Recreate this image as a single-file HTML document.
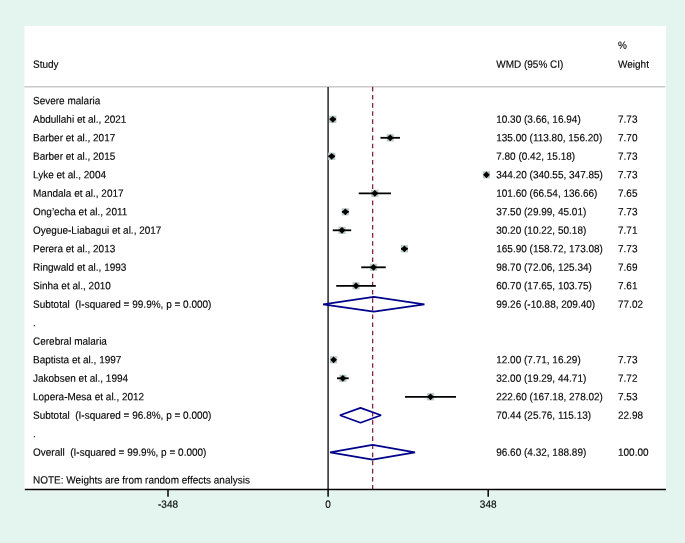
<!DOCTYPE html>
<html><head><meta charset="utf-8"><title>Forest plot</title>
<style>
html,body{margin:0;padding:0;background:#e3f5ee;}
body{width:685px;height:543px;overflow:hidden;}
svg{display:block;will-change:transform;}
text{font-family:"Liberation Sans",sans-serif;font-size:10.0px;fill:#000;stroke:#000;stroke-width:0.12px;white-space:pre;text-rendering:geometricPrecision;}
</style></head><body>
<svg width="685" height="543" viewBox="0 0 685 543">
<rect x="0" y="0" width="685" height="543" fill="#e3f5ee"/>
<rect x="24.5" y="26.0" width="641.5" height="464.6" fill="#ffffff"/>
<line x1="24.5" y1="86.75" x2="665.3" y2="86.75" stroke="#c9c9c9" stroke-width="1.4"/>
<line x1="328.1" y1="86.95" x2="328.1" y2="489.5" stroke="#343434" stroke-width="1.6"/>
<line x1="372.64" y1="86.8" x2="372.64" y2="489.5" stroke="#8a1f4a" stroke-width="1.3" stroke-dasharray="4.6 3.528"/>
<rect x="329.24" y="115.70" width="7.2" height="7.2" fill="#b9c9c7"/>
<line x1="329.78" y1="119.30" x2="335.89" y2="119.30" stroke="#000" stroke-width="1.8"/>
<path d="M329.49 119.30L332.84 115.95L336.19 119.30L332.84 122.65Z" fill="#000"/>
<rect x="386.61" y="134.20" width="7.2" height="7.2" fill="#b9c9c7"/>
<line x1="380.45" y1="137.80" x2="399.96" y2="137.80" stroke="#000" stroke-width="1.8"/>
<path d="M386.86 137.80L390.21 134.45L393.56 137.80L390.21 141.15Z" fill="#000"/>
<rect x="328.09" y="152.70" width="7.2" height="7.2" fill="#b9c9c7"/>
<line x1="328.29" y1="156.30" x2="335.08" y2="156.30" stroke="#000" stroke-width="1.8"/>
<path d="M328.34 156.30L331.69 152.95L335.04 156.30L331.69 159.65Z" fill="#000"/>
<rect x="482.85" y="171.20" width="7.2" height="7.2" fill="#b9c9c7"/>
<line x1="484.77" y1="174.80" x2="488.13" y2="174.80" stroke="#000" stroke-width="1.8"/>
<path d="M483.10 174.80L486.45 171.45L489.80 174.80L486.45 178.15Z" fill="#000"/>
<rect x="371.24" y="189.70" width="7.2" height="7.2" fill="#b9c9c7"/>
<line x1="358.71" y1="193.30" x2="390.97" y2="193.30" stroke="#000" stroke-width="1.8"/>
<path d="M371.49 193.30L374.84 189.95L378.19 193.30L374.84 196.65Z" fill="#000"/>
<rect x="341.75" y="208.20" width="7.2" height="7.2" fill="#b9c9c7"/>
<line x1="341.90" y1="211.80" x2="348.81" y2="211.80" stroke="#000" stroke-width="1.8"/>
<path d="M342.00 211.80L345.35 208.45L348.70 211.80L345.35 215.15Z" fill="#000"/>
<rect x="338.39" y="226.70" width="7.2" height="7.2" fill="#b9c9c7"/>
<line x1="332.80" y1="230.30" x2="351.19" y2="230.30" stroke="#000" stroke-width="1.8"/>
<path d="M338.64 230.30L341.99 226.95L345.34 230.30L341.99 233.65Z" fill="#000"/>
<rect x="400.82" y="245.20" width="7.2" height="7.2" fill="#b9c9c7"/>
<line x1="401.12" y1="248.80" x2="407.73" y2="248.80" stroke="#000" stroke-width="1.8"/>
<path d="M401.07 248.80L404.42 245.45L407.77 248.80L404.42 252.15Z" fill="#000"/>
<rect x="369.91" y="263.70" width="7.2" height="7.2" fill="#b9c9c7"/>
<line x1="361.25" y1="267.30" x2="385.76" y2="267.30" stroke="#000" stroke-width="1.8"/>
<path d="M370.16 267.30L373.51 263.95L376.86 267.30L373.51 270.65Z" fill="#000"/>
<rect x="352.43" y="282.20" width="7.2" height="7.2" fill="#b9c9c7"/>
<line x1="336.22" y1="285.80" x2="375.83" y2="285.80" stroke="#000" stroke-width="1.8"/>
<path d="M352.68 285.80L356.03 282.45L359.38 285.80L356.03 289.15Z" fill="#000"/>
<path d="M323.09 304.30L373.77 296.90L424.44 304.30L373.77 311.70Z" fill="none" stroke="#00008b" stroke-width="1.75" stroke-linejoin="bevel"/>
<rect x="330.02" y="356.20" width="7.2" height="7.2" fill="#b9c9c7"/>
<line x1="331.65" y1="359.80" x2="335.59" y2="359.80" stroke="#000" stroke-width="1.8"/>
<path d="M330.27 359.80L333.62 356.45L336.97 359.80L333.62 363.15Z" fill="#000"/>
<rect x="339.22" y="374.70" width="7.2" height="7.2" fill="#b9c9c7"/>
<line x1="336.97" y1="378.30" x2="348.67" y2="378.30" stroke="#000" stroke-width="1.8"/>
<path d="M339.47 378.30L342.82 374.95L346.17 378.30L342.82 381.65Z" fill="#000"/>
<rect x="426.91" y="393.20" width="7.2" height="7.2" fill="#b9c9c7"/>
<line x1="405.01" y1="396.80" x2="456.01" y2="396.80" stroke="#000" stroke-width="1.8"/>
<path d="M427.16 396.80L430.51 393.45L433.86 396.80L430.51 400.15Z" fill="#000"/>
<path d="M339.95 415.30L360.51 407.90L381.07 415.30L360.51 422.70Z" fill="none" stroke="#00008b" stroke-width="1.75" stroke-linejoin="bevel"/>
<path d="M330.09 452.30L372.54 444.90L415.00 452.30L372.54 459.70Z" fill="none" stroke="#00008b" stroke-width="1.75" stroke-linejoin="bevel"/>
<line x1="24.8" y1="489.5" x2="666.0" y2="489.5" stroke="#000" stroke-width="1.4"/>
<line x1="168.00" y1="489.5" x2="168.00" y2="496.80" stroke="#000" stroke-width="1.5"/>
<text transform="matrix(1 0.0005 0 1.05 168.00 507.80)" text-anchor="middle">-348</text>
<line x1="328.10" y1="489.5" x2="328.10" y2="496.80" stroke="#000" stroke-width="1.5"/>
<text transform="matrix(1 0.0005 0 1.05 328.10 507.80)" text-anchor="middle">0</text>
<line x1="488.20" y1="489.5" x2="488.20" y2="496.80" stroke="#000" stroke-width="1.5"/>
<text transform="matrix(1 0.0005 0 1.05 488.20 507.80)" text-anchor="middle">348</text>
<text transform="matrix(1 0.0005 0 1.05 33.00 67.70)">Study</text>
<text transform="matrix(1 0.0005 0 1.05 496.20 67.70)">WMD (95% CI)</text>
<text transform="matrix(1 0.0005 0 1.05 618.00 67.70)">Weight</text>
<text transform="matrix(1 0.0005 0 1.05 618.00 48.80)">%</text>
<text transform="matrix(1 0.0005 0 1.05 33.00 104.20)">Severe malaria</text>
<text transform="matrix(1 0.0005 0 1.05 33.00 122.70)">Abdullahi et al., 2021</text>
<text transform="matrix(1 0.0005 0 1.05 496.20 122.70)">10.30 (3.66, 16.94)</text>
<text transform="matrix(1 0.0005 0 1.05 618.00 122.70)">7.73</text>
<text transform="matrix(1 0.0005 0 1.05 33.00 141.20)">Barber et al., 2017</text>
<text transform="matrix(1 0.0005 0 1.05 496.20 141.20)">135.00 (113.80, 156.20)</text>
<text transform="matrix(1 0.0005 0 1.05 618.00 141.20)">7.70</text>
<text transform="matrix(1 0.0005 0 1.05 33.00 159.70)">Barber et al., 2015</text>
<text transform="matrix(1 0.0005 0 1.05 496.20 159.70)">7.80 (0.42, 15.18)</text>
<text transform="matrix(1 0.0005 0 1.05 618.00 159.70)">7.73</text>
<text transform="matrix(1 0.0005 0 1.05 33.00 178.20)">Lyke et al., 2004</text>
<text transform="matrix(1 0.0005 0 1.05 496.20 178.20)">344.20 (340.55, 347.85)</text>
<text transform="matrix(1 0.0005 0 1.05 618.00 178.20)">7.73</text>
<text transform="matrix(1 0.0005 0 1.05 33.00 196.70)">Mandala et al., 2017</text>
<text transform="matrix(1 0.0005 0 1.05 496.20 196.70)">101.60 (66.54, 136.66)</text>
<text transform="matrix(1 0.0005 0 1.05 618.00 196.70)">7.65</text>
<text transform="matrix(1 0.0005 0 1.05 33.00 215.20)">Ong’echa et al., 2011</text>
<text transform="matrix(1 0.0005 0 1.05 496.20 215.20)">37.50 (29.99, 45.01)</text>
<text transform="matrix(1 0.0005 0 1.05 618.00 215.20)">7.73</text>
<text transform="matrix(1 0.0005 0 1.05 33.00 233.70)">Oyegue-Liabagui et al., 2017</text>
<text transform="matrix(1 0.0005 0 1.05 496.20 233.70)">30.20 (10.22, 50.18)</text>
<text transform="matrix(1 0.0005 0 1.05 618.00 233.70)">7.71</text>
<text transform="matrix(1 0.0005 0 1.05 33.00 252.20)">Perera et al., 2013</text>
<text transform="matrix(1 0.0005 0 1.05 496.20 252.20)">165.90 (158.72, 173.08)</text>
<text transform="matrix(1 0.0005 0 1.05 618.00 252.20)">7.73</text>
<text transform="matrix(1 0.0005 0 1.05 33.00 270.70)">Ringwald et al., 1993</text>
<text transform="matrix(1 0.0005 0 1.05 496.20 270.70)">98.70 (72.06, 125.34)</text>
<text transform="matrix(1 0.0005 0 1.05 618.00 270.70)">7.69</text>
<text transform="matrix(1 0.0005 0 1.05 33.00 289.20)">Sinha et al., 2010</text>
<text transform="matrix(1 0.0005 0 1.05 496.20 289.20)">60.70 (17.65, 103.75)</text>
<text transform="matrix(1 0.0005 0 1.05 618.00 289.20)">7.61</text>
<text transform="matrix(1 0.0005 0 1.05 33.00 307.70)">Subtotal  (I-squared = 99.9%, p = 0.000)</text>
<text transform="matrix(1 0.0005 0 1.05 496.20 307.70)">99.26 (-10.88, 209.40)</text>
<text transform="matrix(1 0.0005 0 1.05 618.00 307.70)">77.02</text>
<text transform="matrix(1 0.0005 0 1.05 33.00 326.20)">.</text>
<text transform="matrix(1 0.0005 0 1.05 33.00 344.70)">Cerebral malaria</text>
<text transform="matrix(1 0.0005 0 1.05 33.00 363.20)">Baptista et al., 1997</text>
<text transform="matrix(1 0.0005 0 1.05 496.20 363.20)">12.00 (7.71, 16.29)</text>
<text transform="matrix(1 0.0005 0 1.05 618.00 363.20)">7.73</text>
<text transform="matrix(1 0.0005 0 1.05 33.00 381.70)">Jakobsen et al., 1994</text>
<text transform="matrix(1 0.0005 0 1.05 496.20 381.70)">32.00 (19.29, 44.71)</text>
<text transform="matrix(1 0.0005 0 1.05 618.00 381.70)">7.72</text>
<text transform="matrix(1 0.0005 0 1.05 33.00 400.20)">Lopera-Mesa et al., 2012</text>
<text transform="matrix(1 0.0005 0 1.05 496.20 400.20)">222.60 (167.18, 278.02)</text>
<text transform="matrix(1 0.0005 0 1.05 618.00 400.20)">7.53</text>
<text transform="matrix(1 0.0005 0 1.05 33.00 418.70)">Subtotal  (I-squared = 96.8%, p = 0.000)</text>
<text transform="matrix(1 0.0005 0 1.05 496.20 418.70)">70.44 (25.76, 115.13)</text>
<text transform="matrix(1 0.0005 0 1.05 618.00 418.70)">22.98</text>
<text transform="matrix(1 0.0005 0 1.05 33.00 437.20)">.</text>
<text transform="matrix(1 0.0005 0 1.05 33.00 455.70)">Overall  (I-squared = 99.9%, p = 0.000)</text>
<text transform="matrix(1 0.0005 0 1.05 496.20 455.70)">96.60 (4.32, 188.89)</text>
<text transform="matrix(1 0.0005 0 1.05 618.00 455.70)">100.00</text>
<text transform="matrix(1 0.0005 0 1.05 33.00 483.45)">NOTE: Weights are from random effects analysis</text>
</svg>
</body></html>
